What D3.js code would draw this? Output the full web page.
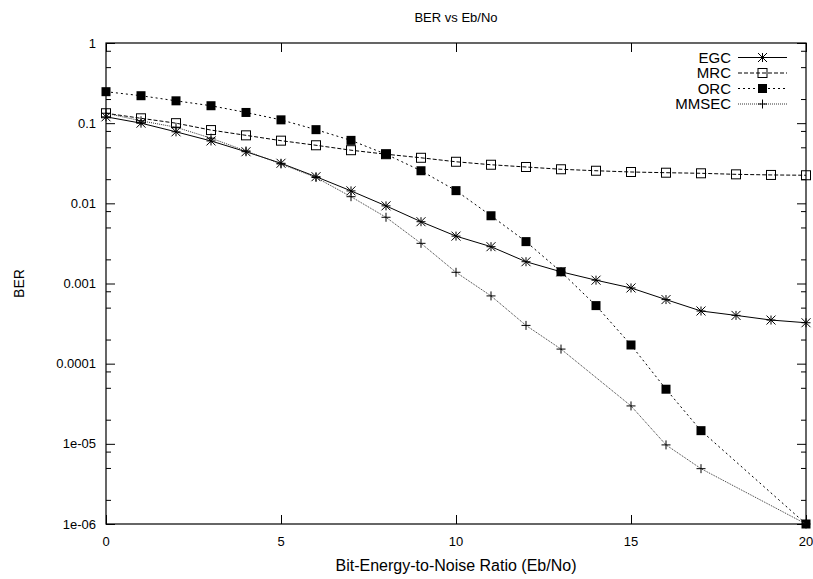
<!DOCTYPE html>
<html>
<head>
<meta charset="utf-8">
<script src="https://cdn.jsdelivr.net/npm/d3@7"></script>
<style>
  html, body { margin: 0; padding: 0; background: #fff; }
  svg { display: block; }
  text { font-family: "Liberation Sans", Arial, sans-serif; fill: #000; }
</style>
</head>
<body>
<svg id="chart" width="813" height="579"></svg>
<script>
const title = "BER vs Eb/No";
const xLabel = "Bit-Energy-to-Noise Ratio (Eb/No)";
const yLabel = "BER";
const xTicks = [0, 5, 10, 15, 20];
const yTicks = [1, 0.1, 0.01, 0.001, 0.0001, 1e-5, 1e-6];
const yTickLabels = ["1", "0.1", "0.01", "0.001", "0.0001", "1e-05", "1e-06"];

const egcX = [0,1,2,3,4,5,6,7,8,9,10,11,12,13,14,15,16,17,18,19,20];
const egcY = [0.12,0.1,0.078,0.06,0.044,0.0316,0.0215,0.0143,0.0093,0.0059,0.0039,0.00288,0.00187,0.0014,0.0011,0.00088,0.00063,0.000454,0.0004,0.00035,0.000324];

const mrcX = [0,1,2,3,4,5,6,7,8,9,10,11,12,13,14,15,16,17,18,19,20];
const mrcY = [0.133,0.115,0.1,0.082,0.0705,0.0605,0.053,0.046,0.041,0.037,0.033,0.0303,0.0284,0.0266,0.0255,0.0246,0.0241,0.0237,0.023,0.0226,0.0224];

const orcX = [0,1,2,3,4,5,6,7,8,9,10,11,12,13,14,15,16,17,20];
const orcY = [0.247,0.22,0.19,0.165,0.136,0.11,0.083,0.061,0.041,0.0255,0.0144,0.007,0.00333,0.0014,0.00053,0.000171,4.8e-5,1.46e-5,1e-6];

const mmsecX = [0,1,2,3,4,5,6,7,8,9,10,11,12,13,15,16,17,20];
const mmsecY = [0.133,0.107,0.089,0.065,0.045,0.031,0.021,0.0121,0.0067,0.00317,0.00138,0.0007,0.0003,0.000152,2.97e-5,9.7e-6,4.9e-6,1e-6];

const seriesNames = ["EGC", "MRC", "ORC", "MMSEC"];

const series = [
  {name: seriesNames[0], xs: egcX, ys: egcY, dash: null, color: "#000", marker: "star"},
  {name: seriesNames[1], xs: mrcX, ys: mrcY, dash: "4,2", color: "#000", marker: "open"},
  {name: seriesNames[2], xs: orcX, ys: orcY, dash: "2,3", color: "#000", marker: "filled"},
  {name: seriesNames[3], xs: mmsecX, ys: mmsecY, dash: "1,1", color: "#333", marker: "plus"}
];

const svg = d3.select("#chart");
const L = 106, R = 806, T = 43, B = 524;

const x = d3.scaleLinear().domain([0, 20]).range([L, R]);
const y = d3.scaleLog().domain([1e-6, 1]).range([B, T]);

// minor ticks
const minor = [];
for (let e = -6; e < 0; e++) {
  [2, 5, 8].forEach(m => minor.push(m * Math.pow(10, e)));
}

const g = svg.append("g");

const fmt = (d) => yTickLabels[yTicks.indexOf(d)];
const leftAxis = d3.axisLeft(y).tickValues(yTicks).tickFormat("").tickSizeInner(-9).tickSizeOuter(0);
const rightAxis = d3.axisRight(y).tickValues(yTicks).tickFormat("").tickSizeInner(-9).tickSizeOuter(0);
const leftMinor = d3.axisLeft(y).tickValues(minor).tickFormat("").tickSizeInner(-5).tickSizeOuter(0);
const rightMinor = d3.axisRight(y).tickValues(minor).tickFormat("").tickSizeInner(-5).tickSizeOuter(0);
const bottomAxis = d3.axisBottom(x).tickValues(xTicks).tickFormat("").tickSizeInner(-9).tickSizeOuter(0);
const topAxis = d3.axisTop(x).tickValues(xTicks).tickFormat("").tickSizeInner(-9).tickSizeOuter(0);

function styleAxis(sel) {
  sel.select(".domain").remove();
  sel.selectAll("line").attr("stroke", "#000").attr("stroke-width", 1);
}
g.append("g").attr("transform", `translate(${L},0)`).call(leftAxis).call(styleAxis);
g.append("g").attr("transform", `translate(${R},0)`).call(rightAxis).call(styleAxis);
g.append("g").attr("transform", `translate(${L},0)`).call(leftMinor).call(styleAxis);
g.append("g").attr("transform", `translate(${R},0)`).call(rightMinor).call(styleAxis);
g.append("g").attr("transform", `translate(0,${B})`).call(bottomAxis).call(styleAxis);
g.append("g").attr("transform", `translate(0,${T})`).call(topAxis).call(styleAxis);

// tick labels
g.selectAll(".ylab").data(yTicks).enter().append("text")
  .attr("x", L - 10).attr("y", d => y(d)).attr("dy", "0.35em")
  .attr("text-anchor", "end").attr("font-size", 13).text(fmt);
g.selectAll(".xlab").data(xTicks).enter().append("text")
  .attr("x", d => x(d)).attr("y", B + 22)
  .attr("text-anchor", "middle").attr("font-size", 13).text(d => d);

// border
g.append("rect").attr("x", L).attr("y", T).attr("width", R - L).attr("height", B - T)
  .attr("fill", "none").attr("stroke", "#000").attr("stroke-width", 1.2);

// titles
svg.append("text").attr("x", (L + R) / 2).attr("y", 22).attr("text-anchor", "middle")
  .attr("font-size", 13).text(title);
svg.append("text").attr("x", (L + R) / 2).attr("y", 571).attr("text-anchor", "middle")
  .attr("font-size", 16).text(xLabel);
svg.append("text").attr("transform", `translate(24,${(T + B) / 2}) rotate(-90)`)
  .attr("text-anchor", "middle").attr("font-size", 14).text(yLabel);

// markers
function drawMarker(sel, type, cx, cy, color) {
  const s = 4.5;
  if (type === "star") {
    const p = `M${cx - s},${cy}L${cx + s},${cy}M${cx},${cy - s}L${cx},${cy + s}M${cx - s},${cy - s}L${cx + s},${cy + s}M${cx - s},${cy + s}L${cx + s},${cy - s}`;
    sel.append("path").attr("d", p).attr("stroke", color).attr("stroke-width", 1).attr("fill", "none");
  } else if (type === "plus") {
    const p = `M${cx - s},${cy}L${cx + s},${cy}M${cx},${cy - s}L${cx},${cy + s}`;
    sel.append("path").attr("d", p).attr("stroke", "#000").attr("stroke-width", 1).attr("fill", "none");
  } else if (type === "open") {
    sel.append("rect").attr("x", cx - s).attr("y", cy - s).attr("width", 2 * s).attr("height", 2 * s)
      .attr("fill", "none").attr("stroke", color).attr("stroke-width", 1);
  } else if (type === "filled") {
    sel.append("rect").attr("x", cx - s).attr("y", cy - s).attr("width", 2 * s).attr("height", 2 * s)
      .attr("fill", color).attr("stroke", "none");
  }
}

const line = d3.line().x(d => x(d[0])).y(d => y(d[1]));

const plot = svg.append("g");
series.forEach(s => {
  const pts = s.xs.map((xv, i) => [xv, s.ys[i]]);
  plot.append("path").attr("d", line(pts)).attr("fill", "none")
    .attr("stroke", s.color).attr("stroke-width", 1)
    .attr("stroke-dasharray", s.dash);
  const mg = plot.append("g");
  pts.forEach(p => drawMarker(mg, s.marker, x(p[0]), y(p[1]), "#000"));
});

// legend
const legY = [57.5, 73, 88.5, 104];
const leg = svg.append("g");
series.forEach((s, i) => {
  leg.append("text").attr("x", 731).attr("y", legY[i]).attr("dy", "0.35em")
    .attr("text-anchor", "end").attr("font-size", 15).text(s.name);
  leg.append("line").attr("x1", 738).attr("x2", 787).attr("y1", legY[i]).attr("y2", legY[i])
    .attr("stroke", s.color).attr("stroke-width", 1).attr("stroke-dasharray", s.dash);
  drawMarker(leg, s.marker, 762.5, legY[i], "#000");
});
</script>
</body>
</html>
